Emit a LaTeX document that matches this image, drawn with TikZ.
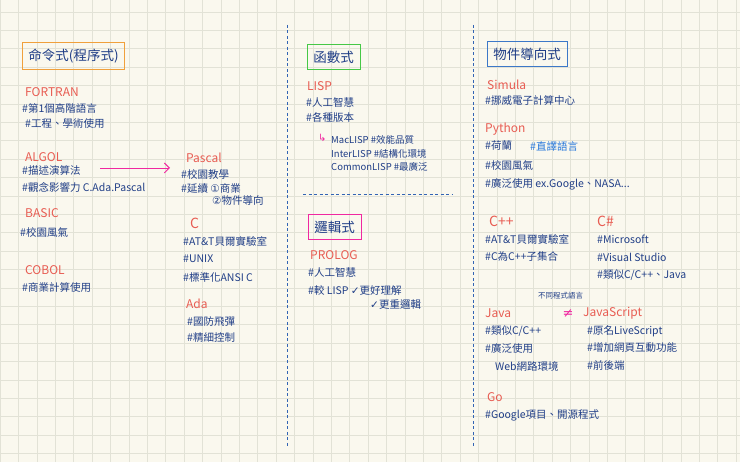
\documentclass[tikz,border=0pt]{standalone}
\usetikzlibrary{arrows.meta}
\usepackage{fontspec}
\setmainfont{Noto Sans CJK TC}
\newfontfamily\symf{DejaVu Sans}
\definecolor{paper}{RGB}{250,248,238}
\definecolor{gridc}{RGB}{226,226,214}
\definecolor{ink}{RGB}{32,62,135}
\definecolor{rd}{RGB}{232,92,82}
\definecolor{lb}{RGB}{40,120,220}
\definecolor{pk}{RGB}{240,40,160}
\definecolor{og}{RGB}{240,160,60}
\definecolor{gn}{RGB}{70,200,70}
\definecolor{bx}{RGB}{60,120,200}
\definecolor{dsh}{RGB}{50,100,180}
\begin{document}
\begin{tikzpicture}[x=1pt,y=-1pt,
  t/.style={anchor=west,inner sep=0pt,text=ink,font=\fontsize{10.5}{12}\selectfont},
  h/.style={anchor=west,inner sep=0pt,text=rd,font=\fontsize{12}{13}\selectfont},
  tb/.style={draw,line width=0.9pt,inner xsep=6pt,inner ysep=6pt,anchor=west,text=ink,font=\fontsize{13.5}{15}\selectfont}]
\fill[paper] (0,0) rectangle (740,462);
\useasboundingbox (0,0) rectangle (740,462);
\foreach \i in {0,...,40} \draw[gridc,line width=0.6pt] ({18.4*\i},0) -- ({18.4*\i},462);
\foreach \j in {0,...,25} \draw[gridc,line width=0.6pt] (0,{12+18.4*\j}) -- (740,{12+18.4*\j});
\draw[dsh,dash pattern=on 3pt off 2.5pt,line width=0.8pt] (287,25) -- (287,448);
\draw[dsh,dash pattern=on 3pt off 2.5pt,line width=0.8pt] (473,25) -- (473,448);
\draw[dsh,dash pattern=on 3pt off 2.5pt,line width=0.8pt] (303,194) -- (452,194);
% left column
\node[tb,draw=og] (b1) at (22,56) {命令式(程序式)};
\node[h] (fort) at (25,92) {FORTRAN};
\node[t] at (22,108) {\#第1個高階語言};
\node[t] at (25,124) {\#工程、學術使用};
\node[h] (algol) at (25,157) {ALGOL};
\node[t] (alg1) at (22,171) {\#描述演算法};
\node[t] at (22,187) {\#觀念影響力 C.Ada.Pascal};
\node[h] (pascal) at (186,158) {Pascal};
\coordinate (as) at (100,168);
\coordinate (ae) at (170,168);
\draw[pk,line width=0.9pt,-{Straight Barb[length=5pt]}] (as) -- (ae);
\node[t] at (181,174) {\#校園教學};
\node[t] at (181,189) {\#延續 {\symf①}商業};
\node[t] at (212,201) {{\symf②}物件導向};
\node[h] at (25,213) {BASIC};
\node[t] at (20,232) {\#校園風氣};
\node[h,font=\fontsize{14}{15}\selectfont] at (190,223) {C};
\node[t] at (183,241) {\#AT\&T貝爾實驗室};
\node[t] at (183,259) {\#UNIX};
\node[t] at (183,277) {\#標準化ANSI C};
\node[h] at (25,270) {COBOL};
\node[t] at (22,288) {\#商業計算使用};
\node[h] at (186,304) {Ada};
\node[t] at (187,322) {\#國防飛彈};
\node[t] at (187,338) {\#精細控制};
% middle
\node[tb,draw=gn] (b2) at (307,57) {函數式};
\node[h] at (307,86) {LISP};
\node[t] at (306,102) {\#人工智慧};
\node[t] at (306,118) {\#各種版本};
\node[anchor=west,inner sep=0pt,text=pk,font=\fontsize{10}{11}\symf] at (318,138) {↳};
\node[t,font=\fontsize{9.5}{11}\selectfont] at (331,140) {MacLISP \#效能品質};
\node[t,font=\fontsize{9.5}{11}\selectfont] at (331,154) {InterLISP \#結構化環境};
\node[t,font=\fontsize{9.5}{11}\selectfont] at (331,167) {CommonLISP \#最廣泛};
\node[tb,draw=pk] (b3) at (308,227) {邏輯式};
\node[h] at (310,255) {PROLOG};
\node[t] at (308,272) {\#人工智慧};
\node[t] at (308,290) {\#較 LISP {\symf✓}更好理解};
\node[t] at (370,305) {{\symf✓}更重邏輯};
% right
\node[tb,draw=bx] (b4) at (487,54) {物件導向式};
\node[h] at (487,85) {Simula};
\node[t] at (485,101) {\#挪威電子計算中心};
\node[h] at (485,129) {Python};
\node[t] at (485,146) {\#荷蘭};
\node[t,text=lb] at (530,146) {\#直譯語言};
\node[t] at (485,165) {\#校園風氣};
\node[t] at (485,184) {\#廣泛使用 ex.Google、NASA...};
\node[h,font=\fontsize{14}{15}\selectfont] at (489,221) {C++};
\node[h,font=\fontsize{14}{15}\selectfont] at (597,221) {C\#};
\node[t] at (485,239) {\#AT\&T貝爾實驗室};
\node[t] at (485,257) {\#C為C++子集合};
\node[t] at (597,239) {\#Microsoft};
\node[t] at (597,257) {\#Visual Studio};
\node[t] at (597,275) {\#類似C/C++、Java};
\node[t,font=\fontsize{7.5}{9}\selectfont] at (538,296) {不同程式語言};
\node[h] at (485,313) {Java};
\node[anchor=center,inner sep=0pt,text=pk,font=\fontsize{13}{14}\symf] at (568,314) {≠};
\node[h] at (583,313) {JavaScript};
\node[t] at (485,331) {\#類似C/C++};
\node[t] at (485,349) {\#廣泛使用};
\node[t] at (495,366) {Web網路環境};
\node[t] at (587,331) {\#原名LiveScript};
\node[t] at (587,348) {\#增加網頁互動功能};
\node[t] at (587,366) {\#前後端};
\node[h] at (487,397) {Go};
\node[t] at (485,415) {\#Google項目、開源程式};
\end{tikzpicture}
\end{document}
